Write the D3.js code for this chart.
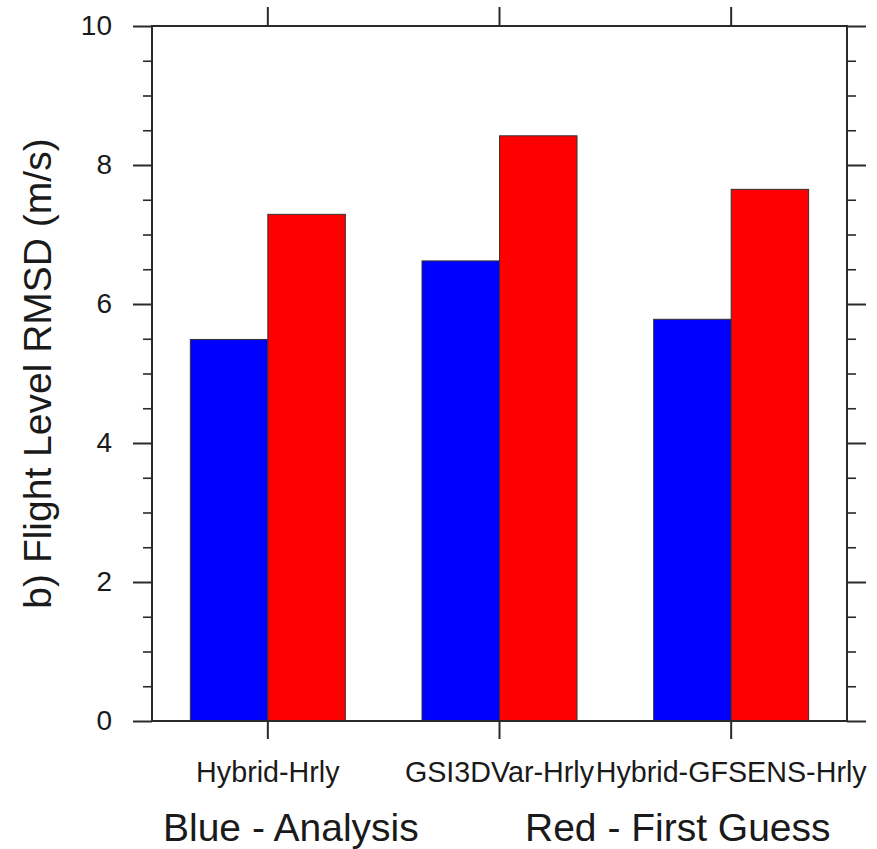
<!DOCTYPE html>
<html lang="en">
<head>
	<meta charset="utf-8">
		<script type="text/javascript" src="https://d3js.org/d3.v7.min.js"></script>

		<style type="text/css">
			body { margin: 0; background: #fff; }
			text { font-family: "Liberation Sans", Arial, sans-serif; fill: #1a1a1a; }
		</style>
</head>
<body>
  	<script type="text/javascript">
var categories = ["Hybrid-Hrly", "GSI3DVar-Hrly", "Hybrid-GFSENS-Hrly"];
var analysis = [5.49, 6.62, 5.78];
var firstGuess = [7.29, 8.42, 7.65];
var yTicks = [0, 2, 4, 6, 8, 10];
var yMinor = [0.5, 1, 1.5, 2.5, 3, 3.5, 4.5, 5, 5.5, 6.5, 7, 7.5, 8.5, 9, 9.5];
var seriesNames = ["Blue - Analysis", "Red - First Guess"];
var seriesColors = ["#0000ff", "#ff0000"];

var width = 877, height = 849;
// plot box (note: "top" is reserved on window, so use pTop etc.)
var pLeft = 152, pRight = 847, pTop = 26, pBottom = 721;

var svg = d3.select("body")
    .append("svg")
    .attr("width", width)
    .attr("height", height);

var x = d3.scaleBand()
    .domain(categories)
    .range([pLeft, pRight])
    .paddingInner(0.331)
    .paddingOuter(0.1655);
var xs = d3.scaleBand()
    .domain([0, 1])
    .range([0, x.bandwidth()]);
var y = d3.scaleLinear()
    .domain([0, 10])
    .range([pBottom, pTop]);

var rows = categories.map(function(c, i) {
    return [{cat: c, s: 0, v: analysis[i]}, {cat: c, s: 1, v: firstGuess[i]}];
});

// bars
svg.append("g")
    .selectAll("g")
    .data(rows)
    .enter()
    .append("g")
    .selectAll("rect")
    .data(function(d) { return d; })
    .enter()
    .append("rect")
    .attr("x", function(d) { return x(d.cat) + xs(d.s); })
    .attr("y", function(d) { return y(d.v); })
    .attr("width", xs.bandwidth())
    .attr("height", function(d) { return y(0) - y(d.v); })
    .style("fill", function(d) { return seriesColors[d.s]; })
    .style("stroke", "#333")
    .style("stroke-width", 1);

function styleAxis(g, w) {
    g.select(".domain").remove();
    g.selectAll("line").style("stroke", "#2a2a2a").style("stroke-width", w);
}

// minor y ticks, both sides
svg.append("g")
    .attr("transform", "translate(" + pLeft + ",0)")
    .call(d3.axisLeft(y).tickValues(yMinor).tickSize(9).tickFormat(""))
    .call(styleAxis, 1.6);
svg.append("g")
    .attr("transform", "translate(" + pRight + ",0)")
    .call(d3.axisRight(y).tickValues(yMinor).tickSize(9).tickFormat(""))
    .call(styleAxis, 1.6);

// major y ticks
svg.append("g")
    .attr("transform", "translate(" + pLeft + ",0)")
    .call(d3.axisLeft(y).tickValues(yTicks).tickSize(19).tickPadding(21).tickFormat(d3.format("d")))
    .call(styleAxis, 2)
    .selectAll("text")
    .style("font-size", "28px");
svg.append("g")
    .attr("transform", "translate(" + pRight + ",0)")
    .call(d3.axisRight(y).tickValues(yTicks).tickSize(19).tickFormat(""))
    .call(styleAxis, 2);

// category ticks
svg.append("g")
    .attr("transform", "translate(0," + pBottom + ")")
    .call(d3.axisBottom(x).tickSize(18).tickPadding(23))
    .call(styleAxis, 2)
    .selectAll("text")
    .style("font-size", "28.7px");
svg.append("g")
    .attr("transform", "translate(0," + pTop + ")")
    .call(d3.axisTop(x).tickSize(19).tickFormat(""))
    .call(styleAxis, 2);

// frame
svg.append("rect")
    .attr("x", pLeft)
    .attr("y", pTop)
    .attr("width", pRight - pLeft)
    .attr("height", pBottom - pTop)
    .style("fill", "none")
    .style("stroke", "#2a2a2a")
    .style("stroke-width", 2);

// y title
svg.append("text")
    .attr("transform", "translate(51," + (pTop + pBottom) / 2 + ") rotate(-90)")
    .style("text-anchor", "middle")
    .style("font-size", "39px")
    .text("b) Flight Level RMSD (m/s)");

// series notes under the axis
svg.selectAll(".note")
    .data(seriesNames)
    .enter()
    .append("text")
    .attr("class", "note")
    .attr("x", function(d, i) { return i == 0 ? 163 : 525; })
    .attr("y", 841)
    .style("font-size", "39px")
    .text(function(d) { return d; });
</script>
</body>
</html>
